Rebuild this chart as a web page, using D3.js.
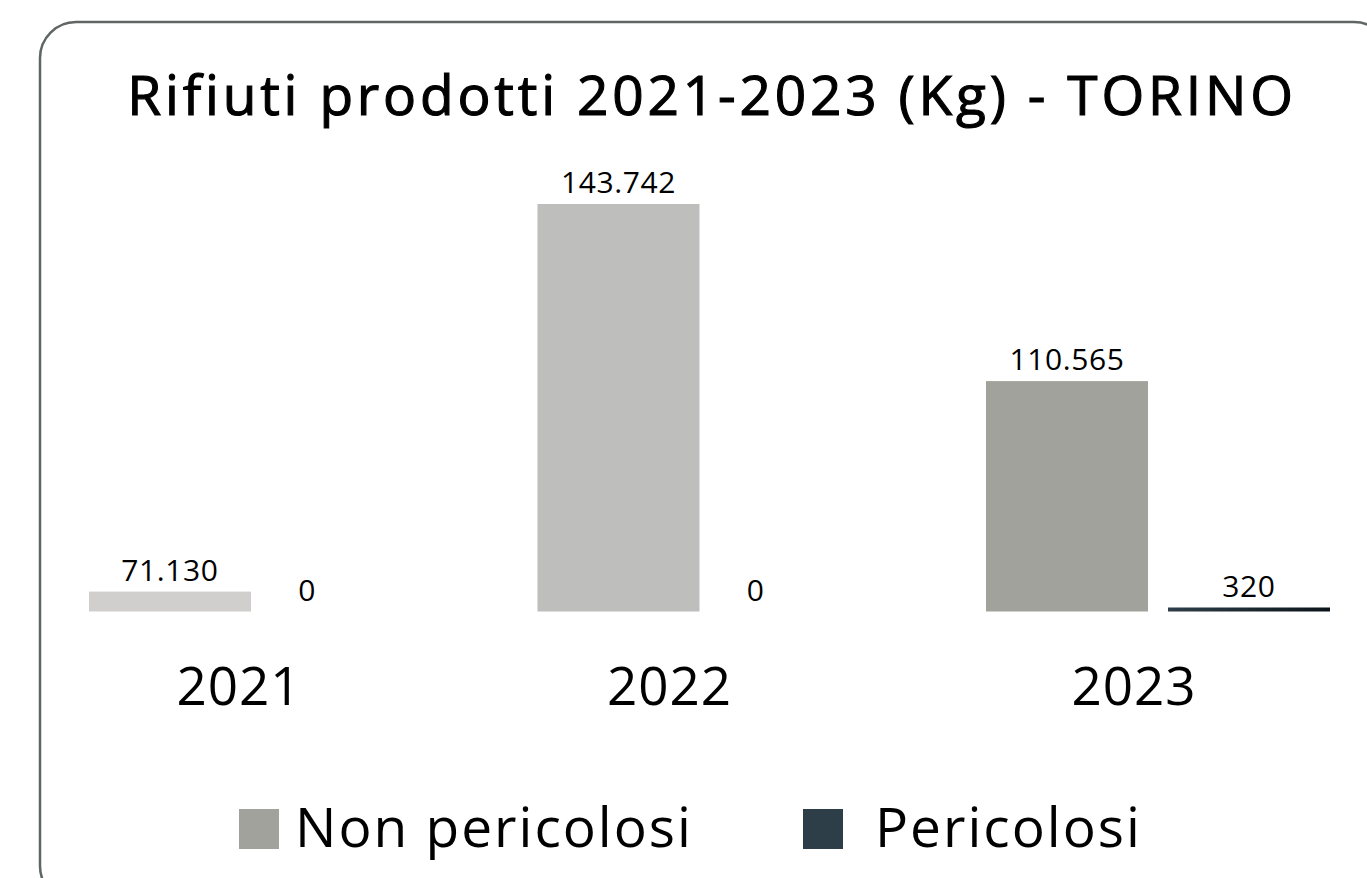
<!DOCTYPE html>
<html>
<head>
<meta charset="utf-8">
<script src="https://cdn.jsdelivr.net/npm/d3@7"></script>
<style>
  body { margin: 0; background: #fff; }
  svg text { font-family: "Open Sans", "Noto Sans", sans-serif; fill: #000; }
</style>
</head>
<body>
<div id="chart"></div>
<script>
// data
var years = ["2021", "2022", "2023"];
var series = ["Non pericolosi", "Pericolosi"];
var nonPericolosi = [71130, 143742, 110565];
var pericolosi = [0, 0, 320];
var yMin = 67400; // value axis does not start at zero in the original

var nonColors = ["#d0cfce", "#bebebd", "#a2a29d"];
var periColor = "#2e3e48";

var width = 1367, height = 878;

var svg = d3.select("#chart").append("svg")
    .attr("width", width)
    .attr("height", height);

var defs = svg.append("defs");
var grad = defs.append("linearGradient").attr("id", "periGrad");
grad.append("stop").attr("offset", "0%").attr("stop-color", "#2e3e48");
grad.append("stop").attr("offset", "100%").attr("stop-color", "#0b141a");

// rounded frame
svg.append("rect")
    .attr("x", 40).attr("y", 22)
    .attr("width", 1350).attr("height", 880)
    .attr("rx", 36).attr("ry", 36)
    .attr("fill", "none")
    .attr("stroke", "#5f6663")
    .attr("stroke-width", 2.5);

// title (regular weight + thin stroke to get a medium look)
svg.append("text")
    .attr("x", 712).attr("y", 115)
    .attr("text-anchor", "middle")
    .style("font-size", "55px")
    .style("letter-spacing", "3.8px")
    .style("stroke", "#000")
    .style("stroke-width", "1.1px")
    .text("Rifiuti prodotti 2021-2023 (Kg) - TORINO");

// scales
var x0 = d3.scaleBand()
    .domain(years)
    .range([36.75, 1382.25])
    .paddingInner(0.233)
    .paddingOuter(0.1165);

var x1 = d3.scaleBand()
    .domain(series)
    .range([0, x0.bandwidth()])
    .paddingInner(0.11);

var y = d3.scaleLinear()
    .domain([yMin, d3.max(nonPericolosi)])
    .range([611.5, 204])
    .clamp(true);

var rows = years.map(function(yr, i) {
  return [
    {year: yr, key: series[0], value: nonPericolosi[i], color: nonColors[i]},
    {year: yr, key: series[1], value: pericolosi[i], color: "url(#periGrad)"}
  ];
});

var groups = svg.append("g").selectAll("g")
    .data(rows)
    .enter().append("g")
    .attr("transform", function(d) { return "translate(" + x0(d[0].year) + ",0)"; });

function barTop(d) {
  var t = y(d.value);
  // tiny values fall below the axis minimum: draw them as a thin line
  if (d.value > 0 && y(yMin) - t < 4) t = y(yMin) - 4;
  return t;
}

groups.selectAll("rect")
    .data(function(d) { return d.filter(function(e) { return e.value > 0; }); })
    .enter().append("rect")
    .attr("x", function(d) { return x1(d.key); })
    .attr("y", barTop)
    .attr("width", x1.bandwidth())
    .attr("height", function(d) { return y(yMin) - barTop(d); })
    .attr("fill", function(d) { return d.color; });

groups.selectAll("text")
    .data(function(d) { return d; })
    .enter().append("text")
    .attr("x", function(d) {
      return d.value > 0 ? x1(d.key) + x1.bandwidth() / 2 : x1(d.key) + 36;
    })
    .attr("y", function(d) { return (d.value > 0 ? barTop(d) : y(yMin)) - 11; })
    .attr("text-anchor", "middle")
    .style("font-size", "30px")
    .style("letter-spacing", "0.6px")
    .text(function(d) { return d3.format(",")(d.value).replace(/,/g, "."); });

// category labels
svg.append("g").selectAll("text")
    .data(years)
    .enter().append("text")
    .attr("x", function(d, i) { return x0(d) + x0.bandwidth() / 2 - [22, 40, 24][i]; })
    .attr("y", 705)
    .attr("text-anchor", "middle")
    .style("font-size", "53px")
    .style("letter-spacing", "1px")
    .text(function(d) { return d; });

// legend
var legend = [
  {label: series[0], color: nonColors[2], x: 239, tx: 295},
  {label: series[1], color: periColor, x: 803, tx: 875}
];
var lg = svg.append("g").selectAll("g")
    .data(legend)
    .enter().append("g");
lg.append("rect")
    .attr("x", function(d) { return d.x; })
    .attr("y", 809)
    .attr("width", 40).attr("height", 40)
    .attr("fill", function(d) { return d.color; });
lg.append("text")
    .attr("x", function(d) { return d.tx; })
    .attr("y", 847)
    .style("font-size", "55px")
    .style("letter-spacing", "2px")
    .text(function(d) { return d.label; });
</script>
</body>
</html>
